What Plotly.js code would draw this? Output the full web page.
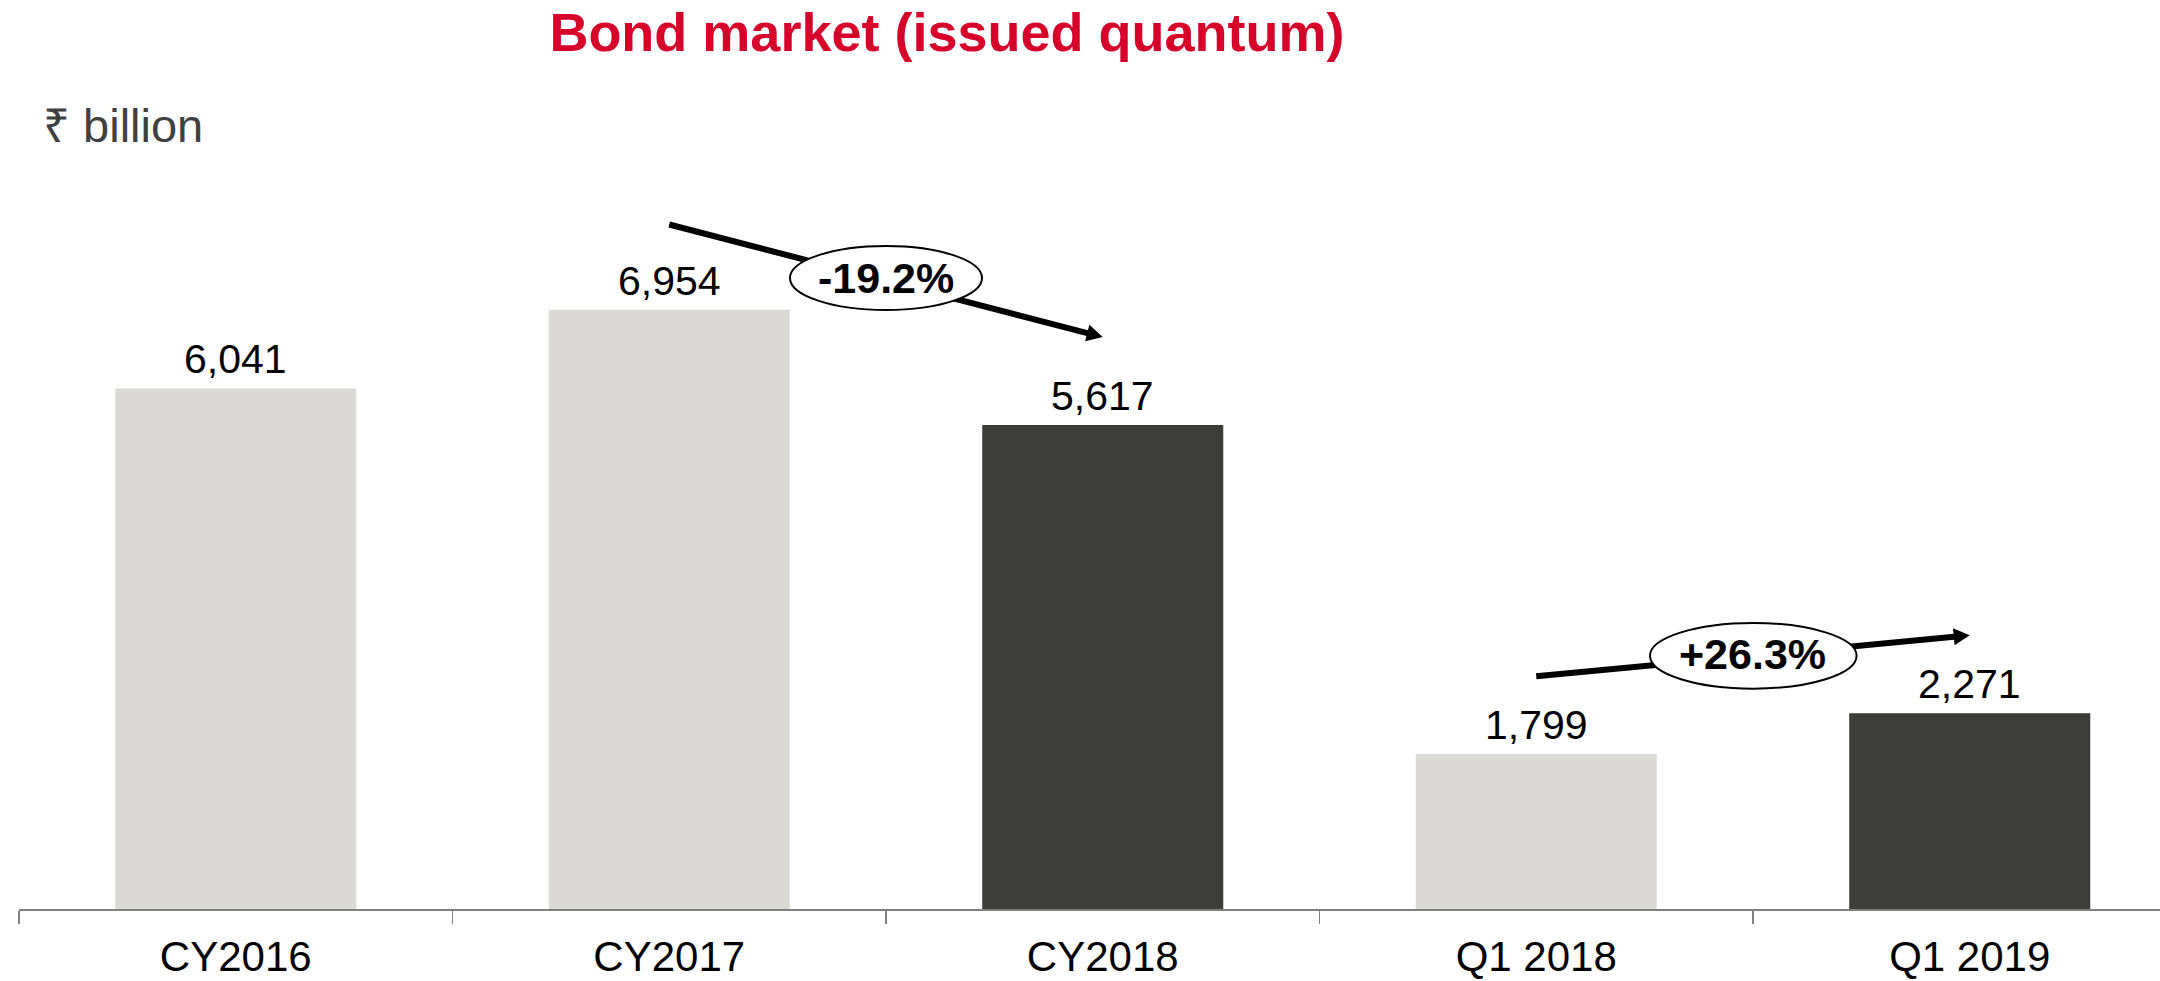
<!DOCTYPE html>
<html>
<head>
<meta charset="utf-8">
<script src="https://cdn.plot.ly/plotly-3.0.1.min.js"></script>
<style>html,body{margin:0;padding:0;background:#fff;}#chart{width:2160px;height:981px;}</style>
</head>
<body>
<div id="chart"></div>
<script>
// ---- data ----
const categories = ["CY2016", "CY2017", "CY2018", "Q1 2018", "Q1 2019"];
const values = [6041, 6954, 5617, 1799, 2271];
const valueLabels = ["6,041", "6,954", "5,617", "1,799", "2,271"];
const changeLabels = ["-19.2%", "+26.3%"];
const titleText = "Bond market (issued quantum)";
const unitText = "\u20B9 billion";

const FONT = "Liberation Sans, Arial, Helvetica, sans-serif";
const LIGHT = "#DAD9D5", DARK = "#3C3C3B";

const trace = {
  type: "bar",
  x: categories,
  y: values,
  width: 0.556,
  marker: {color: [LIGHT, LIGHT, DARK, LIGHT, DARK], line: {width: 0}},
  hoverinfo: "x+y"
};

const annotations = categories.map((c, i) => ({
  x: c, y: values[i], xref: "x", yref: "y",
  text: valueLabels[i], showarrow: false,
  yanchor: "bottom", yshift: 4,
  font: {family: FONT, size: 41, color: "#000"}
}));

annotations.push(
  {x: 1.5, y: 7322, xref: "x", yref: "y", text: "<b>" + changeLabels[0] + "</b>", showarrow: false,
   xanchor: "center", yanchor: "middle", font: {family: FONT, size: 43, color: "#000"}},
  {x: 3.5, y: 2956, xref: "x", yref: "y", text: "<b>" + changeLabels[1] + "</b>", showarrow: false,
   xanchor: "center", yanchor: "middle", font: {family: FONT, size: 43, color: "#000"}},
  {x: 0.0105, y: 0.969, xref: "paper", yref: "paper", text: unitText, showarrow: false,
   xanchor: "left", yanchor: "middle", font: {family: FONT, size: 47, color: "#404040"}}
);

const shapes = [
  // arrow 1 line
  {type: "line", xref: "x", yref: "y", x0: 1, y0: 7943, x1: 1.971, y1: 6675,
   line: {color: "#000", width: 6}, layer: "above"},
  // arrow 1 head
  {type: "path", xref: "x", yref: "y", xsizemode: "pixel", ysizemode: "pixel",
   xanchor: 2, yanchor: 6637, path: "M0,0 L-13.35,12.25 L-17.63,-4.21 Z",
   fillcolor: "#000", line: {width: 0}, layer: "above"},
  // arrow 2 line
  {type: "line", xref: "x", yref: "y", x0: 3, y0: 2700, x1: 3.970, y1: 3162,
   line: {color: "#000", width: 6}, layer: "above"},
  // arrow 2 head
  {type: "path", xref: "x", yref: "y", xsizemode: "pixel", ysizemode: "pixel",
   xanchor: 4, yanchor: 3176, path: "M0,0 L-16.73,6.95 L-15.13,-9.97 Z",
   fillcolor: "#000", line: {width: 0}, layer: "above"},
  // ellipses
  {type: "circle", xref: "x", yref: "y", x0: 1.2785, x1: 1.7215, y0: 6951, y1: 7694,
   fillcolor: "#fff", line: {color: "#000", width: 2}, layer: "above"},
  {type: "circle", xref: "x", yref: "y", x0: 3.2624, x1: 3.739, y0: 2557, y1: 3319,
   fillcolor: "#fff", line: {color: "#000", width: 2}, layer: "above"}
];

const layout = {
  width: 2160, height: 981,
  margin: {l: 19, r: 0, t: 100, b: 72, pad: 0},
  paper_bgcolor: "#fff", plot_bgcolor: "#fff",
  showlegend: false,
  title: {
    text: "<b>" + titleText + "</b>",
    font: {family: FONT, size: 54, color: "#D6002A"},
    x: 0.4384, xanchor: "center", xref: "container",
    y: 0.9674, yanchor: "middle", yref: "container"
  },
  xaxis: {
    type: "category",
    range: [-0.5, 4.4389],
    tickson: "boundaries",
    ticks: "outside", ticklen: 13, tickwidth: 1.5, tickcolor: "#808080",
    showline: true, linecolor: "#808080", linewidth: 2,
    showgrid: false, zeroline: false,
    tickfont: {family: FONT, size: 42, color: "#000"},
    ticklabelstandoff: 10,
    fixedrange: true
  },
  yaxis: {
    range: [0, 9388],
    visible: false, showgrid: false, zeroline: false, fixedrange: true
  },
  annotations: annotations,
  shapes: shapes
};

Plotly.newPlot("chart", [trace], layout, {displayModeBar: false, staticPlot: true});
</script>
</body>
</html>
